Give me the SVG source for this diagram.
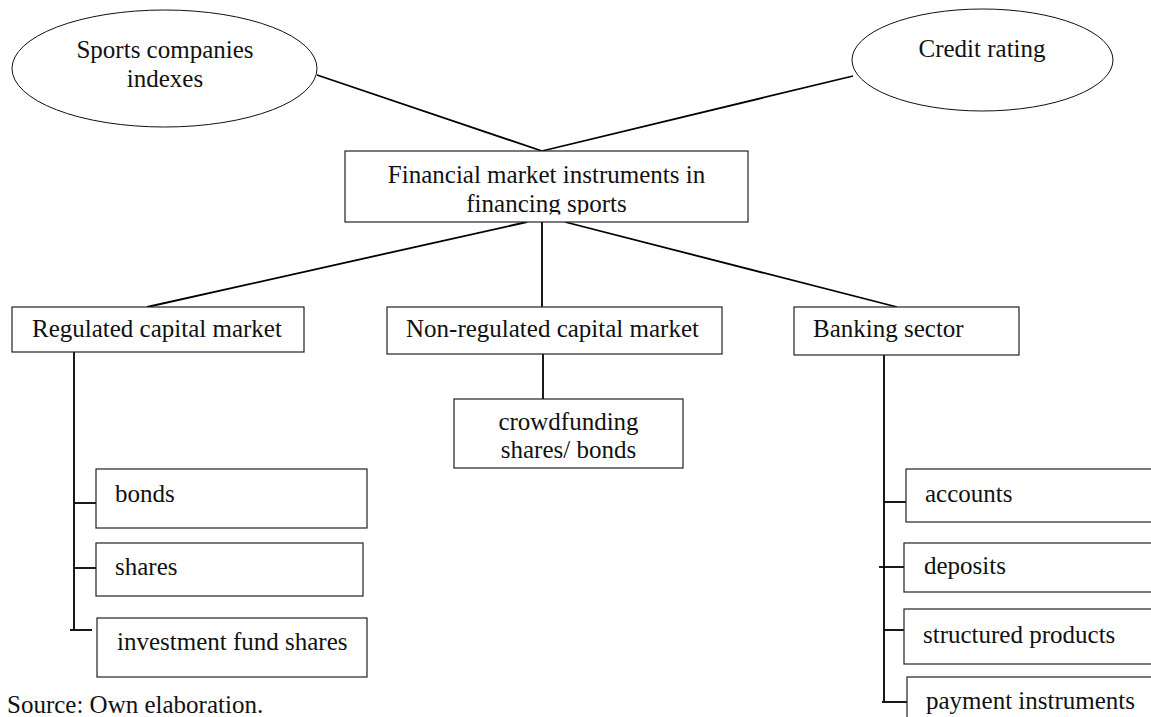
<svg xmlns="http://www.w3.org/2000/svg" width="1151" height="717" viewBox="0 0 1151 717">
<style>
  .box { fill: #ffffff; stroke: #222222; stroke-width: 1.2; }
  .ell { fill: #ffffff; stroke: #111111; stroke-width: 1; }
  .ln { stroke: #000000; stroke-width: 1.8; fill: none; }
  text { font-family: "Liberation Serif", "Times New Roman", serif; font-size: 25px; fill: #111111; }
  .c { text-anchor: middle; }
</style>
<defs>
  <clipPath id="clipMain"><rect x="345" y="151" width="403" height="63.5"/></clipPath>
</defs>
<rect width="1151" height="717" fill="#ffffff"/>
<g id="connectors">
  <line class="ln" x1="317" y1="75" x2="542" y2="151"/>
  <line class="ln" x1="853" y1="76" x2="542" y2="151"/>
  <line class="ln" x1="527" y1="222" x2="147" y2="307"/>
  <line class="ln" x1="542" y1="222" x2="542" y2="307"/>
  <line class="ln" x1="565" y1="222" x2="897" y2="307"/>
  <line class="ln" x1="74" y1="352" x2="74" y2="630"/>
  <line class="ln" x1="74" y1="503" x2="97" y2="503"/>
  <line class="ln" x1="74" y1="568" x2="97" y2="568"/>
  <line class="ln" x1="70" y1="630" x2="92" y2="630"/>
  <line class="ln" x1="543" y1="354" x2="543" y2="399"/>
  <line class="ln" x1="884" y1="355" x2="884" y2="702"/>
  <line class="ln" x1="884" y1="502" x2="906" y2="502"/>
  <line class="ln" x1="879" y1="567" x2="904" y2="567"/>
  <line class="ln" x1="884" y1="630" x2="907" y2="630"/>
  <line class="ln" x1="882" y1="702" x2="907" y2="702"/>
</g>
<g id="node-sports-indexes">
  <ellipse class="ell" cx="164.5" cy="68.5" rx="152.5" ry="58.5"/>
  <text class="c" x="165" y="58">Sports companies</text>
  <text class="c" x="165" y="87">indexes</text>
</g>
<g id="node-credit-rating">
  <ellipse class="ell" cx="982.5" cy="60" rx="130.5" ry="51"/>
  <text class="c" x="982" y="57">Credit rating</text>
</g>
<g id="node-main">
  <rect class="box" x="345" y="151" width="403" height="71"/>
  <g clip-path="url(#clipMain)">
    <text class="c" x="546.5" y="183">Financial market instruments in</text>
    <text class="c" x="546.5" y="212">financing sports</text>
  </g>
</g>
<g id="node-regulated">
  <rect class="box" x="12" y="307" width="292" height="45"/>
  <text x="32" y="337">Regulated capital market</text>
</g>
<g id="node-nonregulated">
  <rect class="box" x="387" y="307" width="335" height="47"/>
  <text x="406" y="337">Non-regulated capital market</text>
</g>
<g id="node-banking">
  <rect class="box" x="794" y="307" width="225" height="48"/>
  <text x="813" y="337">Banking sector</text>
</g>
<g id="node-crowdfunding">
  <rect class="box" x="454" y="399" width="229" height="69"/>
  <text class="c" x="568.5" y="430">crowdfunding</text>
  <text class="c" x="568.5" y="458">shares/ bonds</text>
</g>
<g id="node-bonds">
  <rect class="box" x="96" y="469" width="271" height="59"/>
  <text x="115" y="502">bonds</text>
</g>
<g id="node-shares">
  <rect class="box" x="96" y="543" width="267" height="53"/>
  <text x="115" y="575">shares</text>
</g>
<g id="node-investment-fund-shares">
  <rect class="box" x="97" y="618" width="270" height="59"/>
  <text x="117" y="650">investment fund shares</text>
</g>
<g id="node-accounts">
  <rect class="box" x="906" y="469" width="260" height="53"/>
  <text x="925" y="502">accounts</text>
</g>
<g id="node-deposits">
  <rect class="box" x="904" y="543" width="262" height="49"/>
  <text x="924" y="574">deposits</text>
</g>
<g id="node-structured-products">
  <rect class="box" x="904" y="609" width="262" height="55"/>
  <text x="923" y="643">structured products</text>
</g>
<g id="node-payment-instruments">
  <rect class="box" x="907" y="677" width="260" height="60"/>
  <text x="926" y="709">payment instruments</text>
</g>
<g id="source">
  <text x="7" y="713">Source: Own elaboration.</text>
</g>
</svg>
